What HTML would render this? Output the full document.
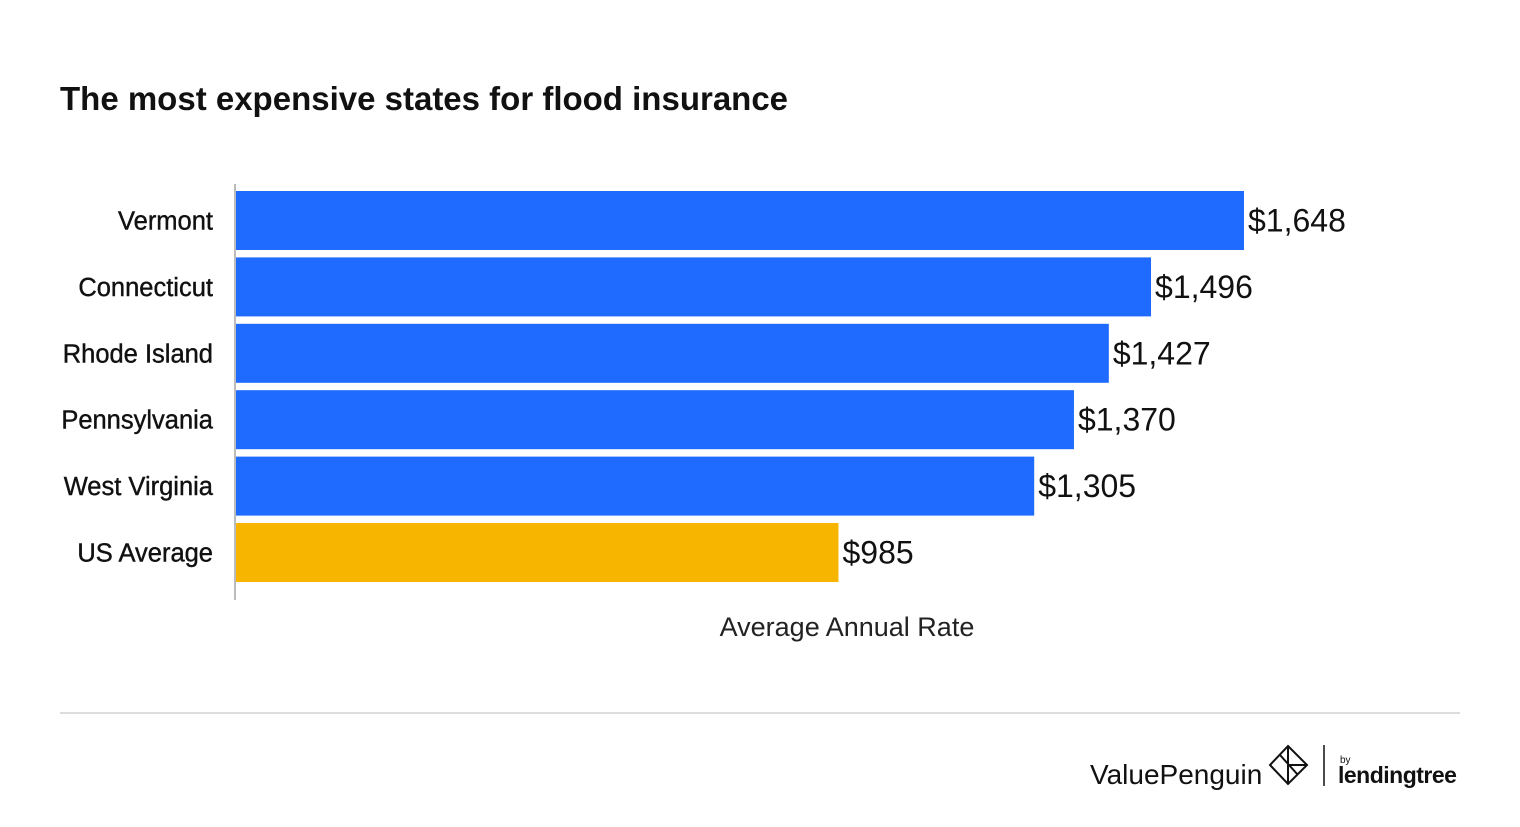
<!DOCTYPE html>
<html><head><meta charset="utf-8"><style>
body{margin:0;background:#fff;width:1520px;height:822px;overflow:hidden;font-family:"Liberation Sans",sans-serif}
</style></head><body>
<svg width="1520" height="822" xmlns="http://www.w3.org/2000/svg">
<text x="60" y="110" font-size="33" font-weight="bold" fill="#111" letter-spacing="0">The most expensive states for flood insurance</text>
<g id="bars"></g>
<line x1="235" y1="184" x2="235" y2="600" stroke="#bbb" stroke-width="2"/>
<text x="847" y="636" font-size="27" text-anchor="middle" fill="#222">Average Annual Rate</text>
<line x1="60" y1="713" x2="1460" y2="713" stroke="#ddd" stroke-width="2"/>
<text x="1090" y="784" font-size="28" fill="#111">ValuePenguin</text>
<g fill="none" stroke="#111" stroke-width="2">
<path d="M1288 746 L1307 765 L1288 784 L1270 765 Z"/><path d="M1288 746 L1288 784 M1288 765 L1307 765 M1280 755 L1298 775"/>
</g>
<line x1="1324" y1="745" x2="1324" y2="786" stroke="#111" stroke-width="1.5"/>
<text x="1340" y="763" font-size="10" fill="#111">by</text>
<text x="1338" y="783" font-size="23" font-weight="bold" fill="#111" letter-spacing="-0.5">lendingtree</text>
</svg>
<script>
const categories=["Vermont","Connecticut","Rhode Island","Pennsylvania","West Virginia","US Average"];
const values=[1648,1496,1427,1370,1305,985];
const valueLabels=["$1,648","$1,496","$1,427","$1,370","$1,305","$985"];
const colors=["#1f6bff","#1f6bff","#1f6bff","#1f6bff","#1f6bff","#f8b500"];
const ns="http://www.w3.org/2000/svg";
const g=document.getElementById("bars");
const x0=236, scale=1008/1648;
const xPos=v=>x0+v*scale;
const bandTop=191, band=66.4, barH=59;
categories.forEach((c,i)=>{
  const y=bandTop+i*band;
  const r=document.createElementNS(ns,"rect");
  r.setAttribute("x",x0);r.setAttribute("y",y);
  r.setAttribute("width",xPos(values[i])-x0);r.setAttribute("height",barH);
  r.setAttribute("fill",colors[i]);
  
  
  g.appendChild(r);
  const t=document.createElementNS(ns,"text");
  t.setAttribute("x",213);t.setAttribute("y",y+barH/2+9);
  t.setAttribute("text-anchor","end");t.setAttribute("font-size","25.5");t.setAttribute("fill","#111");
  t.setAttribute("stroke","#111");t.setAttribute("stroke-width","0.4");
  t.textContent=c;
  
  
  g.appendChild(t);
  const v=document.createElementNS(ns,"text");
  v.setAttribute("x",xPos(values[i])+4);v.setAttribute("y",y+barH/2+11);
  v.setAttribute("font-size","32");v.setAttribute("fill","#111");
  v.textContent=valueLabels[i];
  
  
  g.appendChild(v);
});
</script>
</body></html>
